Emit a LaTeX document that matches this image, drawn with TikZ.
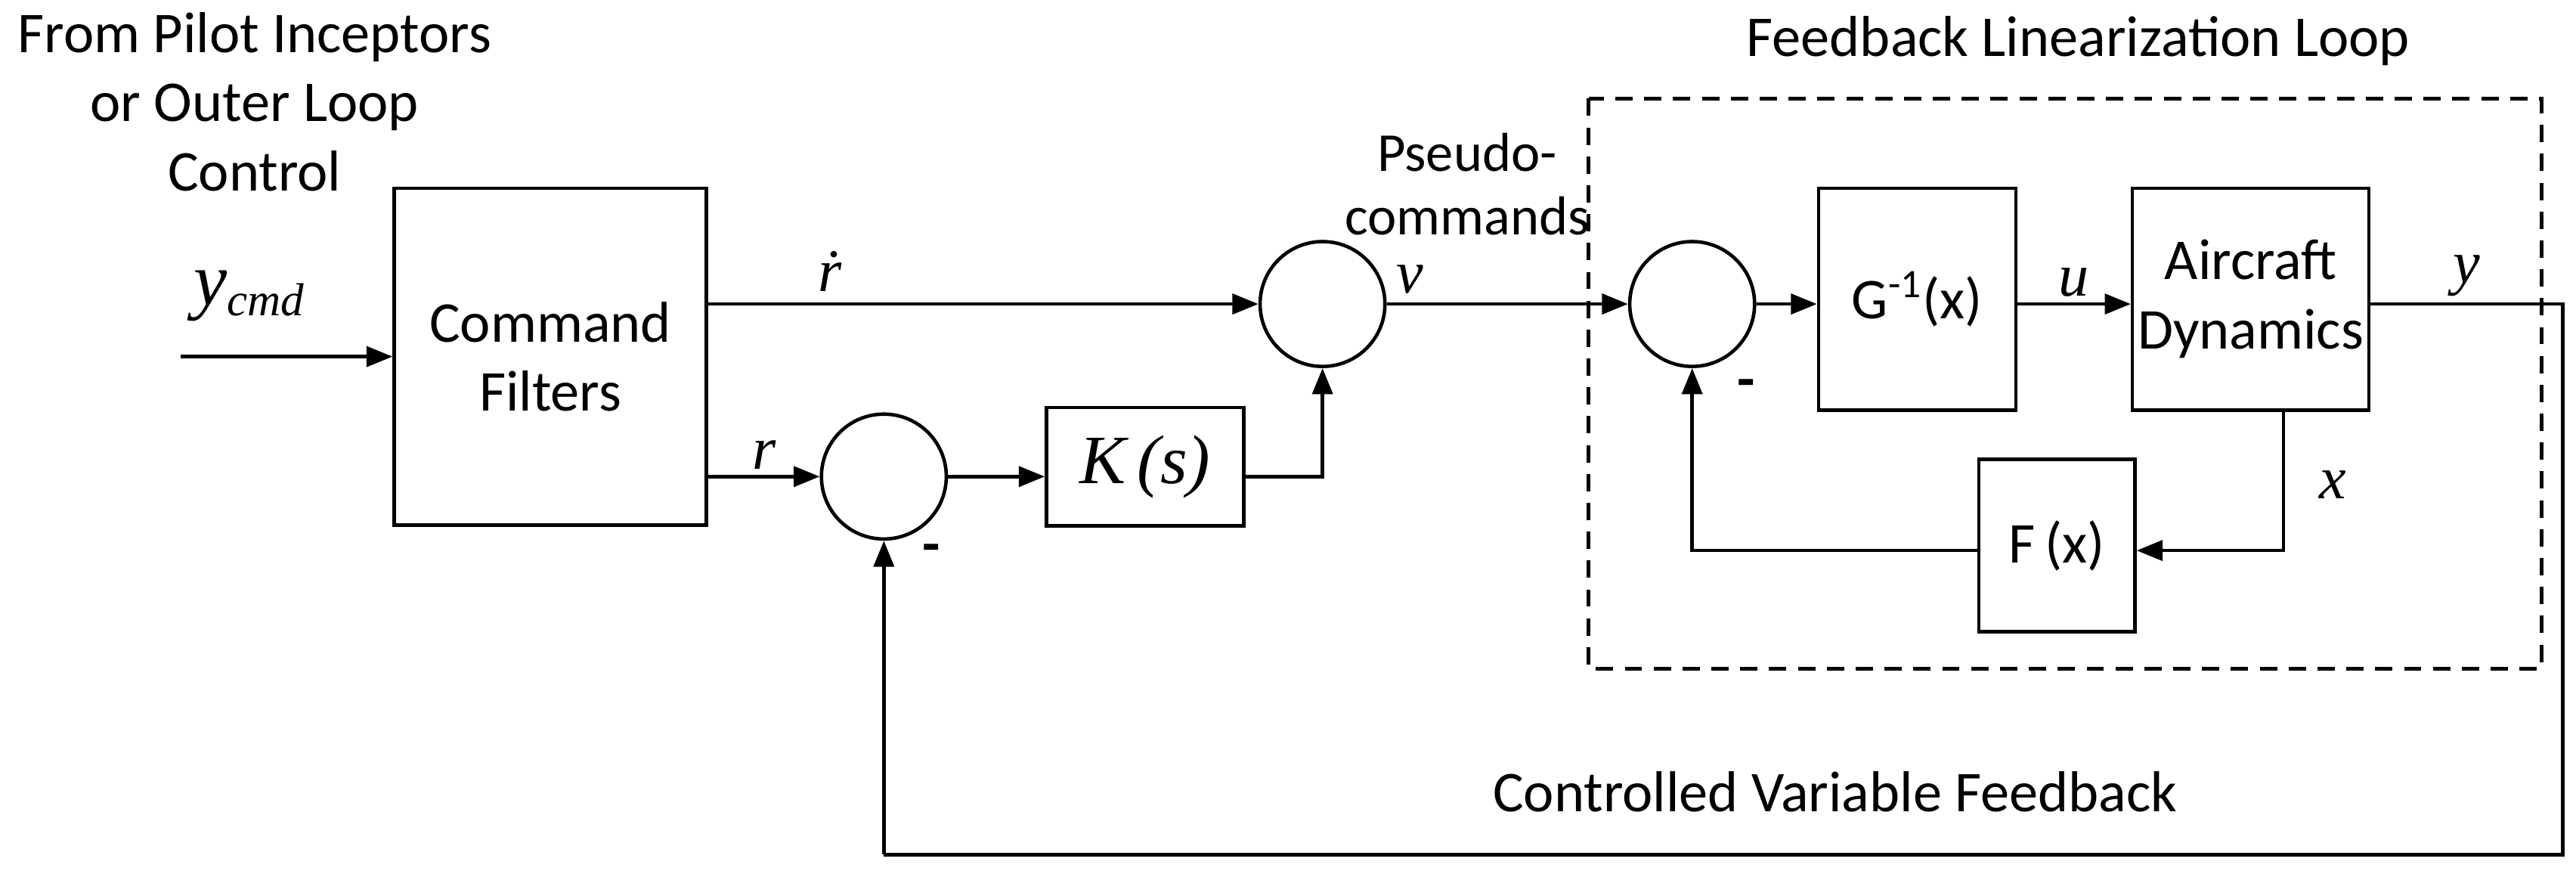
\documentclass[tikz,border=0pt]{standalone}
\usepackage{fontspec}
\setmainfont{Carlito}
\newfontfamily\tms{Liberation Serif}
\usetikzlibrary{arrows.meta}
\begin{document}
\begin{tikzpicture}[x=0.02cm,y=-0.02cm,
  blk/.style={draw,line width=1.2pt,inner sep=0pt},
  sum/.style={draw,line width=1.2pt,circle,minimum size=76*0.02cm,inner sep=0pt},
  ln/.style={line width=1.2pt},
  ar/.style={line width=1.2pt,-{Triangle[length=9pt,width=7pt]}},
  txt/.style={font=\fontsize{20pt}{24pt}\selectfont},
  mth/.style={font=\tms\itshape\fontsize{21pt}{24pt}\selectfont,inner sep=2pt}]
\useasboundingbox (0,0) rectangle (1568,530);
\node[txt,align=center] (src) at (155,62) {From Pilot Inceptors\\or Outer Loop\\Control};
\node[txt] (fll) at (1265,25) {Feedback Linearization Loop};
\node[txt,align=center,font=\fontsize{19pt}{22pt}\selectfont] (pc) at (893,112) {Pseudo-\\commands};
\node[txt] (cvf) at (1117,482) {Controlled Variable Feedback};
\draw[dash pattern=on 6pt off 4pt,line width=1.2pt] (967,60) rectangle (1547,407);
\node[blk,txt,minimum width=190*0.02cm,minimum height=205*0.02cm,align=center] (cf) at (335,217) {Command\\Filters};
\node[sum] (s1) at (805,185) {};
\node[sum] (s2) at (538,290) {};
\node[sum] (s3) at (1030,185) {};
\node[blk,minimum width=120*0.02cm,minimum height=72*0.02cm,font=\tms\itshape\fontsize{24pt}{26pt}\selectfont] (k) at (697,284) {K\,(s)};
\node[blk,txt,minimum width=120*0.02cm,minimum height=135*0.02cm] (g) at (1167,182) {G\textsuperscript{-1}(x)};
\node[blk,txt,minimum width=144*0.02cm,minimum height=135*0.02cm,align=center] (ad) at (1370,182) {Aircraft\\Dynamics};
\node[blk,txt,minimum width=95*0.02cm,minimum height=105*0.02cm] (f) at (1252,332) {F\,(x)};
\coordinate (in) at (110,217);
\draw[ar] (in) -- (cf.west|-in);
\node[mth,font=\tms\itshape\fontsize{26pt}{28pt}\selectfont] (yc) at (152,180) {y\textsubscript{\fontsize{16pt}{18pt}\selectfont cmd}};
\draw[ar] (cf.east|-s1) -- (s1.west);
\node[mth] (rd) at (505,165) {\.r};
\draw[ar] (cf.east|-s2) -- node[mth,above]{r} (s2.west);
\draw[ar] (s2.east) -- (k.west|-s2);
\draw[ar] (k.east|-s2) -| (s1.south);
\draw[ar] (s1.east) -- (s3.west);
\node[mth] (nu) at (858,170) {ν};
\draw[ar] (s3.east) -- (g.west|-s3);
\draw[ar] (g.east|-s3) -- node[mth,above]{u} (ad.west|-s3);
\coordinate (c1) at (1560,185);
\coordinate (c2) at (1560,520);
\coordinate (c3) at (538,520);
\draw[ln] (ad.east|-s3) -- node[mth,above]{y} (c1) -- (c2) -- (c3);
\draw[ar] (c3) -- (s2.south);
\coordinate (xd) at (1390,335);
\draw[ar] (ad.south-|xd) -- (xd) -- (f.east|-xd);
\node[mth] (xl) at (1420,295) {x};
\draw[ar] (f.west|-xd) -| (s3.south);
\node[font=\bfseries\fontsize{20pt}{22pt}\selectfont] (m1) at (567,337) {-};
\node[font=\bfseries\fontsize{20pt}{22pt}\selectfont] (m2) at (1063,237) {-};
\end{tikzpicture}
\end{document}
